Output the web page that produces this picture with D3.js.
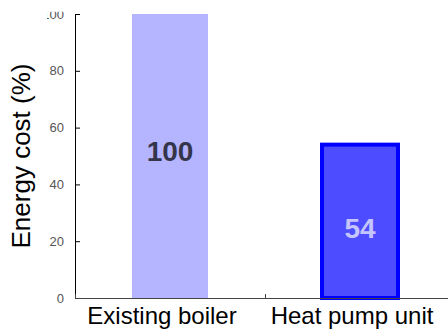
<!DOCTYPE html>
<html>
<head>
<meta charset="utf-8">
<script src="https://cdn.jsdelivr.net/npm/d3@7/dist/d3.min.js"></script>
<style>
  html, body { margin: 0; padding: 0; background: #fff; }
  svg { display: block; font-family: "Liberation Sans", Arial, Helvetica, sans-serif; }
</style>
</head>
<body>
<svg id="chart" width="448" height="332"></svg>
<script>
const categories = ["Existing boiler", "Heat pump unit"];
const values = [100, 54];
const valueLabels = ["100", "54"];
const labelAt = [51.5, 24.5];
const yTicks = [0, 20, 40, 60, 80, 100];

const svg = d3.select("#chart");
const mLeft = 75, mRight = 455, mTop = 14, mBottom = 298;

const x = d3.scaleBand().domain(categories).range([mLeft, mRight]).paddingInner(0.6).paddingOuter(0.3);
const xCat = d3.scaleBand().domain(categories).range([mLeft, mRight]);
const xLin = d3.scaleLinear().domain([0, categories.length]).range([mLeft, mRight]);
const y = d3.scaleLinear().domain([0, 100]).range([mBottom, mTop]);

svg.append("defs").append("clipPath").attr("id", "clipTop")
  .append("rect").attr("x", -28).attr("y", 11.7).attr("width", 448).attr("height", 332);

// bars
const fills = ["#b5b5ff", "#4d4dff"];
const strokes = ["none", "#0000ff"];
svg.selectAll("rect.bar").data(values).join("rect")
  .attr("class", "bar")
  .attr("x", (d, i) => x(categories[i]))
  .attr("width", x.bandwidth())
  .attr("y", d => y(d))
  .attr("height", d => y(0) - y(d))
  .attr("fill", (d, i) => fills[i])
  .attr("stroke", (d, i) => strokes[i])
  .attr("stroke-width", 4);

// value labels
const labelColors = ["#34344a", "#c4c4ff"];
svg.selectAll("text.val").data(values).join("text")
  .attr("class", "val")
  .attr("x", (d, i) => x(categories[i]) + x.bandwidth() / 2)
  .attr("y", (d, i) => y(labelAt[i]))
  .attr("text-anchor", "middle")
  .attr("dominant-baseline", "central")
  .attr("font-weight", "bold")
  .attr("font-size", 28)
  .attr("fill", (d, i) => labelColors[i])
  .text((d, i) => valueLabels[i]);

// y axis
const yAxis = svg.append("g").attr("transform", `translate(${mLeft},0)`)
  .attr("clip-path", "url(#clipTop)")
  .call(d3.axisLeft(y).tickValues(yTicks).tickSize(-5).tickPadding(11));
yAxis.select(".domain").attr("stroke", "#000");
yAxis.selectAll(".tick line").attr("stroke", "#000");
yAxis.selectAll(".tick text").attr("font-size", 13).attr("fill", "#555").attr("font-family", "Liberation Sans, Arial, sans-serif");

// x axis: boundary ticks
const xAxis = svg.append("g").attr("transform", `translate(0,${mBottom})`)
  .call(d3.axisBottom(xLin).tickValues([1]).tickSize(-4).tickFormat(""));
xAxis.select(".domain").attr("stroke", "#444");
xAxis.selectAll(".tick line").attr("stroke", "#444");

// category labels
const xLab = svg.append("g").attr("transform", `translate(-8,${mBottom})`)
  .call(d3.axisBottom(xCat).tickSize(0).tickPadding(9));
xLab.select(".domain").remove();
xLab.selectAll(".tick text").attr("font-size", 24).attr("fill", "#000").attr("font-family", "Liberation Sans, Arial, sans-serif");

// y title
svg.append("text")
  .attr("transform", `translate(30,${(mTop + mBottom) / 2}) rotate(-90)`)
  .attr("text-anchor", "middle")
  .attr("font-size", 26)
  .attr("fill", "#000")
  .text("Energy cost (%)");
</script>
</body>
</html>
